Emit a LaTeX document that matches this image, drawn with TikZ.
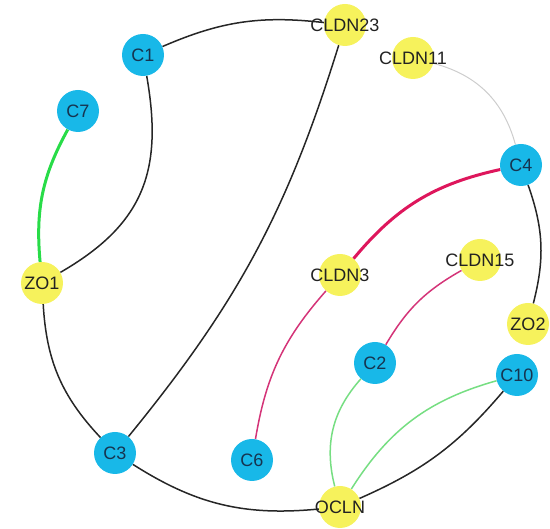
\documentclass[tikz,border=0pt]{standalone}
\usepackage{fontspec}
\setmainfont{Liberation Sans}
\usetikzlibrary{backgrounds}
\definecolor{nodeblue}{RGB}{24,184,232}
\definecolor{nodeyellow}{RGB}{246,242,92}
\definecolor{txtblue}{RGB}{22,52,80}
\definecolor{txtdark}{RGB}{34,34,34}
\definecolor{linkgreen}{RGB}{40,220,72}
\definecolor{lightgreen}{RGB}{118,222,130}
\definecolor{linkpink}{RGB}{212,52,120}
\definecolor{linkcrimson}{RGB}{222,22,92}
\definecolor{linkgray}{RGB}{205,205,205}
\tikzset{
  gene/.style={circle, inner sep=0pt, minimum size=42pt,
    font=\fontsize{18}{21}\selectfont},
  cnode/.style={gene, fill=nodeblue, text=txtblue},
  ynode/.style={gene, fill=nodeyellow, text=txtdark},
  blk/.style={draw=black!85, line width=1.5pt},
  grnthick/.style={draw=linkgreen, line width=3pt},
  grnthin/.style={draw=lightgreen, line width=1.5pt},
  pinkthin/.style={draw=linkpink, line width=1.5pt},
  crimthick/.style={draw=linkcrimson, line width=3pt},
  grayline/.style={draw=linkgray, line width=1pt}
}
\newcommand{\lbl}[1]{\makebox[0pt][c]{#1}}
\begin{document}
\begin{tikzpicture}[x=1pt,y=1pt]
\useasboundingbox (0,0) rectangle (550,529);
% genes
\node[cnode] (C1) at (143,474) {\lbl{C1}};
\node[ynode] (CLDN23) at (345,504) {\lbl{CLDN23}};
\node[ynode] (CLDN11) at (413,471) {\lbl{CLDN11}};
\node[cnode] (C7) at (78,418) {\lbl{C7}};
\node[cnode] (C4) at (521,364) {\lbl{C4}};
\node[ynode] (CLDN3) at (340,254) {\lbl{CLDN3}};
\node[ynode] (CLDN15) at (480,269) {\lbl{CLDN15}};
\node[ynode] (ZO1) at (42,246) {\lbl{ZO1}};
\node[ynode] (ZO2) at (528,205) {\lbl{ZO2}};
\node[cnode] (C2) at (375,166) {\lbl{C2}};
\node[cnode] (C10) at (517,154) {\lbl{C10}};
\node[cnode] (C3) at (115,76) {\lbl{C3}};
\node[cnode] (C6) at (252,69) {\lbl{C6}};
\node[ynode] (OCLN) at (340,22) {\lbl{OCLN}};
% links
\begin{scope}[on background layer]
\draw[blk] (C1) to[bend left=15] (CLDN23);
\draw[blk] (C1) to[out=-80, in=30, looseness=1.15] (ZO1);
\draw[grnthick] (C7) to[bend right=17] (ZO1);
\draw[blk] (ZO1) to[bend right=20] (C3);
\draw[blk] (C3) to[bend right=19] (OCLN);
\draw[blk] (OCLN) to[bend right=13] (C10);
\draw[grnthin] (OCLN) to[bend left=21] (C10);
\draw[grnthin] (C2) to[bend right=28] (OCLN);
\draw[pinkthin] (CLDN3) to[bend right=16] (C6);
\draw[pinkthin] (CLDN15) to[bend right=15] (C2);
\draw[crimthick] (C4) to[bend right=19] (CLDN3);
\draw[grayline] (CLDN11) to[bend left=30] (C4);
\draw[blk] (C4) to[bend left=17] (ZO2);
\draw[blk] (CLDN23) to[bend left=11] (C3);
\end{scope}
\end{tikzpicture}
\end{document}
